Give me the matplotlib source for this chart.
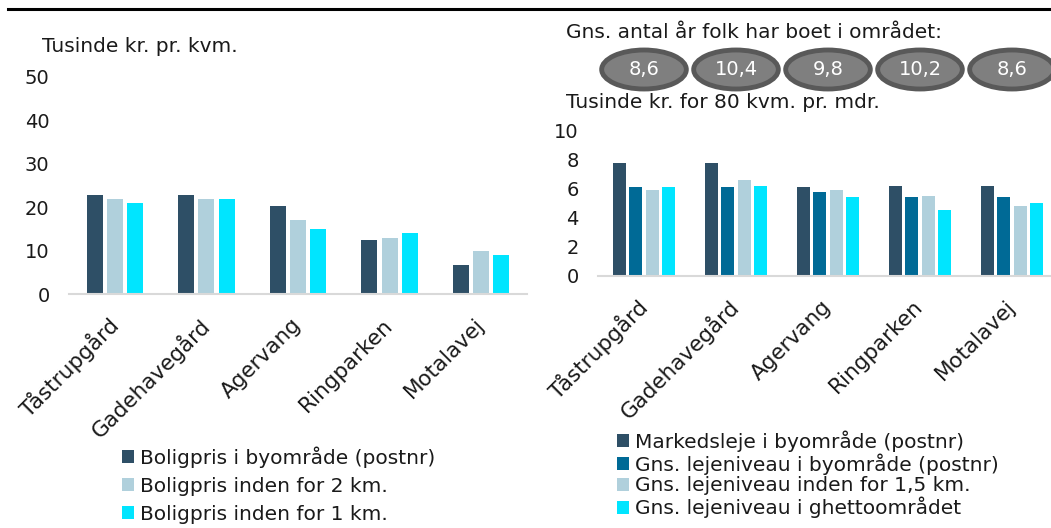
import matplotlib
matplotlib.use("Agg")
import matplotlib.pyplot as plt
import matplotlib.transforms as mtransforms
from matplotlib.patches import Ellipse
from matplotlib.lines import Line2D
import numpy as np

plt.rcParams['font.family'] = ['DejaVu Sans']

# ---------------- data ----------------
categories = ['Tåstrupgård', 'Gadehavegård', 'Agervang', 'Ringparken', 'Motalavej']

boligpris_byomraade = [22.7, 22.7, 20.2, 12.4, 6.7]
boligpris_2km = [22.0, 22.0, 17.0, 13.0, 10.0]
boligpris_1km = [20.9, 22.0, 14.9, 14.0, 9.0]
left_labels = ['Boligpris i byområde (postnr)', 'Boligpris inden for 2 km.',
               'Boligpris inden for 1 km.']

markedsleje = [7.8, 7.8, 6.1, 6.2, 6.2]
leje_byomraade = [6.1, 6.1, 5.8, 5.4, 5.4]
leje_15km = [5.9, 6.6, 5.9, 5.5, 4.8]
leje_ghetto = [6.1, 6.2, 5.4, 4.5, 5.0]
right_labels = ['Markedsleje i byområde (postnr)', 'Gns. lejeniveau i byområde (postnr)',
                'Gns. lejeniveau inden for 1,5 km.', 'Gns. lejeniveau i ghettoområdet']

years_lived = [8.6, 10.4, 9.8, 10.2, 8.6]

left_yticks = [0, 10, 20, 30, 40, 50]
right_yticks = [0, 2, 4, 6, 8, 10]

# ---------------- style ----------------
W, H = 1051, 528
DARK = '#2e4f66'
MID = '#006a96'
LIGHT = '#b0d0dc'
CYAN = '#00e5ff'
TXT = '#1a1a1a'
FS = 14.5       # general text
FS_TICK = 14    # y tick labels
FS_X = 15.5     # rotated category labels

fig = plt.figure(figsize=(W / 100, H / 100), dpi=100)


def fr(l, t, r, b):
    return [l / W, 1 - b / H, (r - l) / W, (b - t) / H]


def style_axes(ax, yticks):
    for s in ['top', 'right', 'left']:
        ax.spines[s].set_visible(False)
    ax.spines['bottom'].set_color('#d9d9d9')
    ax.spines['bottom'].set_linewidth(1.5)
    ax.set_yticks(yticks)
    ax.set_ylim(yticks[0], yticks[-1])
    ax.tick_params(axis='y', length=0, pad=14, labelsize=FS_TICK, labelcolor=TXT)
    ax.tick_params(axis='x', length=0, pad=20, labelsize=FS_X, labelcolor=TXT)
    x = np.arange(len(categories))
    ax.set_xticks(x)
    ax.set_xticklabels(categories, rotation=45, ha='right', va='center',
                       rotation_mode='anchor')
    ax.set_xlim(-0.5, len(categories) - 0.5)


# ---------------- left chart ----------------
ax1 = fig.add_axes(fr(69, 77, 527, 294))
x = np.arange(len(categories))
left_series = [boligpris_byomraade, boligpris_2km, boligpris_1km]
left_colors = [DARK, LIGHT, CYAN]
for i, (vals, col, lab) in enumerate(zip(left_series, left_colors, left_labels)):
    ax1.bar(x + (i - 1) * 0.22, vals, width=0.175, color=col, label=lab, zorder=2)
style_axes(ax1, left_yticks)

fig.text(42 / W, 1 - 46 / H, 'Tusinde kr. pr. kvm.', fontsize=FS, color=TXT,
         ha='left', va='center')

leg1 = fig.legend(*ax1.get_legend_handles_labels(), loc='upper left',
                  bbox_to_anchor=(122 / W, 1 - 446 / H), frameon=False,
                  fontsize=FS, handlelength=0.6, handleheight=0.6,
                  handletextpad=0.3, labelspacing=0.45, borderpad=0,
                  borderaxespad=0)
for t in leg1.get_texts():
    t.set_color(TXT)

# ---------------- right chart ----------------
ax2 = fig.add_axes(fr(598, 131, 1058, 275.5))
right_series = [markedsleje, leje_byomraade, leje_15km, leje_ghetto]
right_colors = [DARK, MID, LIGHT, CYAN]
for i, (vals, col, lab) in enumerate(zip(right_series, right_colors, right_labels)):
    ax2.bar(x + (i - 1.5) * 0.18, vals, width=0.1415, color=col, label=lab, zorder=2)
style_axes(ax2, right_yticks)

fig.text(566 / W, 1 - 103 / H, 'Tusinde kr. for 80 kvm. pr. mdr.', fontsize=FS,
         color=TXT, ha='left', va='center')
fig.text(566 / W, 1 - 33 / H, 'Gns. antal år folk har boet i området:', fontsize=FS,
         color=TXT, ha='left', va='center')

blend = mtransforms.blended_transform_factory(ax2.transData, fig.transFigure)
for xi, yv in zip(x, years_lived):
    e = Ellipse((xi, 1 - 69.5 / H), width=0.92, height=39 / H,
                facecolor='#7f7f7f', edgecolor='#595959', linewidth=3.5,
                transform=blend, clip_on=False, zorder=5)
    ax2.add_patch(e)
    ax2.text(xi, 1 - 69.5 / H, f'{yv:.1f}'.replace('.', ','), transform=blend,
             ha='center', va='center', fontsize=14, color='white', zorder=6,
             clip_on=False)

leg2 = fig.legend(*ax2.get_legend_handles_labels(), loc='upper left',
                  bbox_to_anchor=(617 / W, 1 - 430 / H), frameon=False,
                  fontsize=FS, handlelength=0.6, handleheight=0.6,
                  handletextpad=0.3, labelspacing=0.08, borderpad=0,
                  borderaxespad=0)
for t in leg2.get_texts():
    t.set_color(TXT)

# ---------------- top rule ----------------
fig.add_artist(Line2D([8 / W, 1.0], [1 - 8.5 / H, 1 - 8.5 / H], color='black',
                      linewidth=2.2, transform=fig.transFigure))

fig.savefig('out.png', dpi=100)
